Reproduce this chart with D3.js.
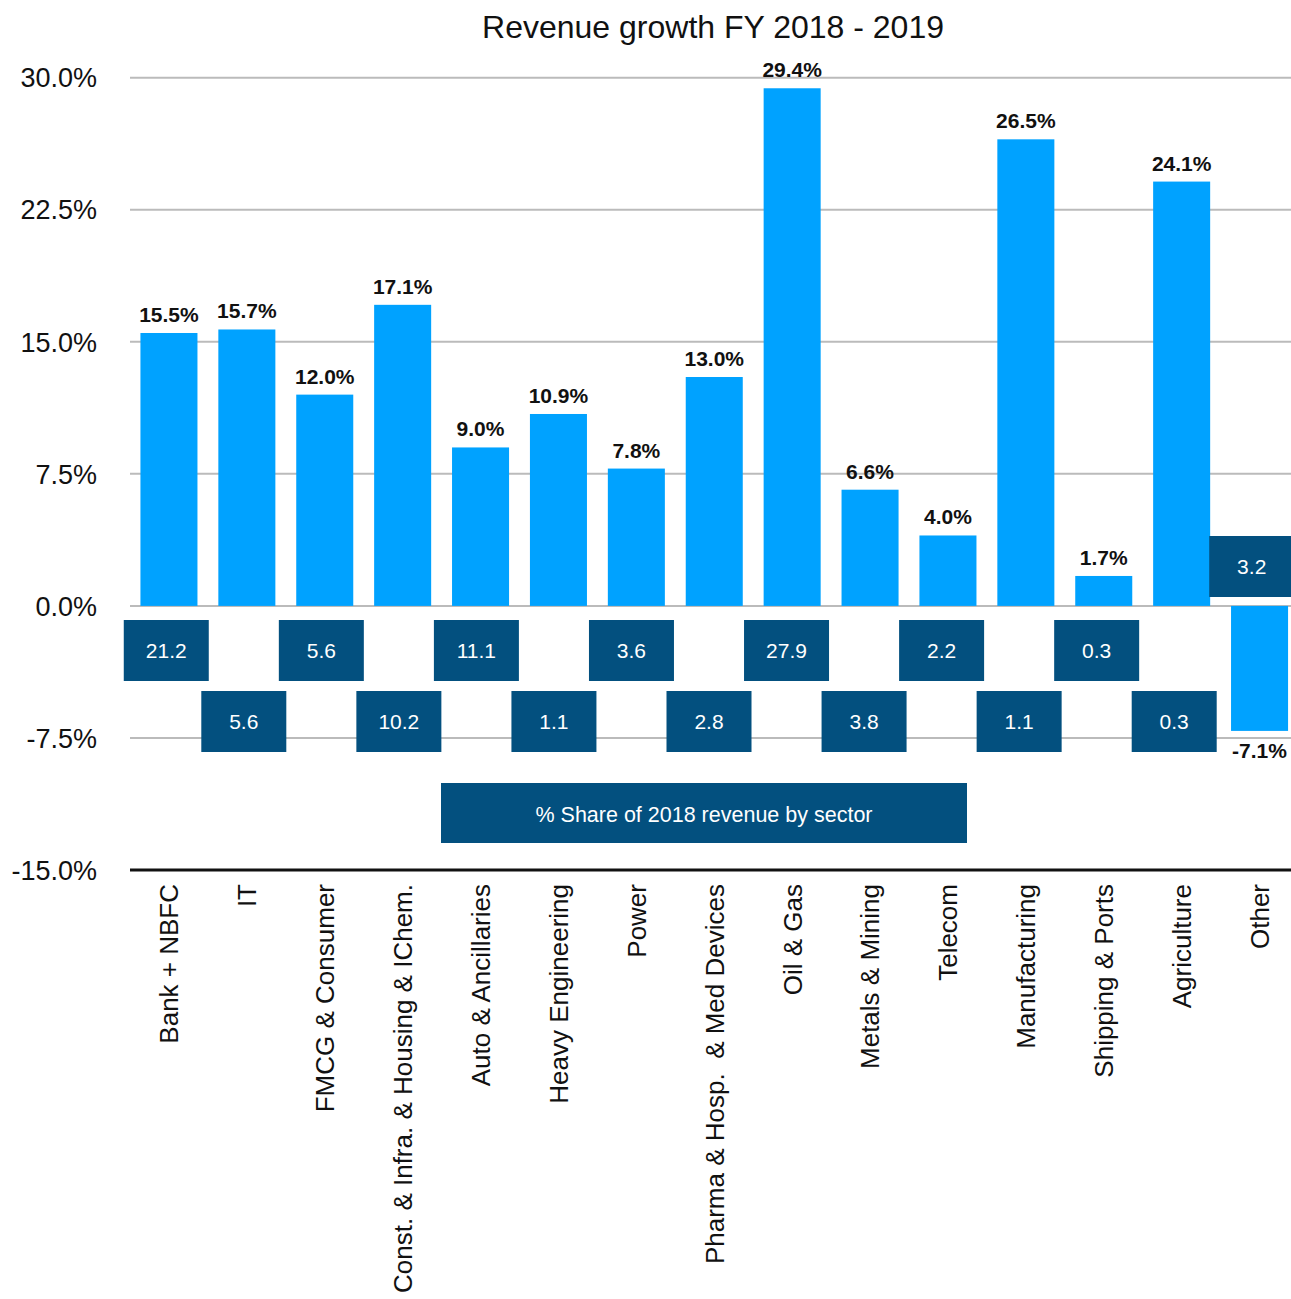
<!DOCTYPE html>
<html>
<head>
<meta charset="utf-8">
<script src="https://d3js.org/d3.v7.min.js"></script>
<style>
  body { margin: 0; background: white; }
  svg { display: block; font-family: "Liberation Sans", Arial, Helvetica, sans-serif; }
</style>
</head>
<body>
<script>

// chart data
var categories = ["Bank + NBFC", "IT", "FMCG & Consumer", "Const. & Infra. & Housing & IChem.",
  "Auto & Ancillaries", "Heavy Engineering", "Power", "Pharma & Hosp.  & Med Devices",
  "Oil & Gas", "Metals & Mining", "Telecom", "Manufacturing", "Shipping & Ports",
  "Agriculture", "Other"];
var growth = [15.5, 15.7, 12.0, 17.1, 9.0, 10.9, 7.8, 13.0, 29.4, 6.6, 4.0, 26.5, 1.7, 24.1, -7.1];
var share2018 = [21.2, 5.6, 5.6, 10.2, 11.1, 1.1, 3.6, 2.8, 27.9, 3.8, 2.2, 1.1, 0.3, 0.3, 3.2];
var yTicks = [30, 22.5, 15, 7.5, 0, -7.5, -15];
var title = "Revenue growth FY 2018 - 2019";
var shareLabel = "% Share of 2018 revenue by sector";

// canvas size
var w = 1291;
var h = 1299;

var barColor = "#00A2FF";
var boxColor = "#03507F";

var svg = d3.select("body").append("svg")
  .attr("width", w)
  .attr("height", h);

// scales
var y = d3.scaleLinear().domain([-15, 30]).range([870, 77.7]);
var x = d3.scaleBand().domain(categories).range([130, 1298.5])
  .paddingInner(0.268).paddingOuter(0.134);
// the share boxes sit on a slightly tighter spacing than the bars
var xBox = d3.scaleBand().domain(categories).range([127.5, 1290.5]);

// title
svg.append("text")
  .attr("x", 713).attr("y", 38)
  .attr("text-anchor", "middle")
  .attr("font-size", 32)
  .attr("fill", "#111")
  .text(title);

// gridlines (bottom one is the black axis line)
svg.selectAll(".grid").data(yTicks).enter().append("line")
  .attr("class", "grid")
  .attr("x1", 130).attr("x2", w)
  .attr("y1", function(d) { return y(d); })
  .attr("y2", function(d) { return y(d); })
  .attr("stroke", function(d) { return d == -15 ? "#111" : "#bbb"; })
  .attr("stroke-width", function(d) { return d == -15 ? 3 : 2; });

// y tick labels
svg.selectAll(".ytick").data(yTicks).enter().append("text")
  .attr("class", "ytick")
  .attr("x", 97)
  .attr("y", function(d) { return y(d); })
  .attr("dy", "0.36em")
  .attr("text-anchor", "end")
  .attr("font-size", 27)
  .attr("fill", "#111")
  .text(function(d) { return d.toFixed(1) + "%"; });

// bars
svg.selectAll(".bar").data(growth).enter().append("rect")
  .attr("class", "bar")
  .attr("x", function(d, i) { return x(categories[i]); })
  .attr("width", x.bandwidth())
  .attr("y", function(d) { return y(Math.max(d, 0)); })
  .attr("height", function(d) { return Math.abs(y(d) - y(0)); })
  .attr("fill", barColor);

// value labels
svg.selectAll(".vlabel").data(growth).enter().append("text")
  .attr("class", "vlabel")
  .attr("x", function(d, i) { return x(categories[i]) + x.bandwidth() / 2; })
  .attr("y", function(d) { return d >= 0 ? y(d) - 11 : y(d) + 27; })
  .attr("text-anchor", "middle")
  .attr("font-size", 21)
  .attr("font-weight", "bold")
  .attr("fill", "#111")
  .text(function(d) { return d.toFixed(1) + "%"; });

// share boxes: alternate two rows under the zero line, negative bars get the box above zero
var boxW = 85, boxH = 61;
var boxTop = function(d, i) {
  if (growth[i] < 0) return 536;
  return i % 2 == 0 ? 620 : 691;
};
var boxes = svg.selectAll(".sharebox").data(share2018).enter().append("g")
  .attr("class", "sharebox")
  .attr("transform", function(d, i) {
    var cx = xBox(categories[i]) + xBox.bandwidth() / 2;
    return "translate(" + (cx - boxW / 2) + "," + boxTop(d, i) + ")";
  });
boxes.append("rect")
  .attr("width", boxW).attr("height", boxH)
  .attr("fill", boxColor);
boxes.append("text")
  .attr("x", boxW / 2).attr("y", boxH / 2)
  .attr("dy", "0.36em")
  .attr("text-anchor", "middle")
  .attr("font-size", 21)
  .attr("fill", "white")
  .text(function(d) { return d.toFixed(1); });

// legend box for the share numbers
svg.append("rect")
  .attr("x", 441).attr("y", 783)
  .attr("width", 526).attr("height", 60)
  .attr("fill", boxColor);
svg.append("text")
  .attr("x", 704).attr("y", 814)
  .attr("dy", "0.36em")
  .attr("text-anchor", "middle")
  .attr("font-size", 21.5)
  .attr("fill", "white")
  .text(shareLabel);

// category labels, rotated
svg.selectAll(".xlabel").data(categories).enter().append("text")
  .attr("class", "xlabel")
  .attr("transform", function(d) {
    return "translate(" + (x(d) + x.bandwidth() / 2) + ",884) rotate(-90)";
  })
  .attr("dy", "0.36em")
  .attr("text-anchor", "end")
  .attr("font-size", 26)
  .attr("fill", "#111")
  .style("white-space", "pre")
  .text(function(d) { return d; });

</script>
</body>
</html>
